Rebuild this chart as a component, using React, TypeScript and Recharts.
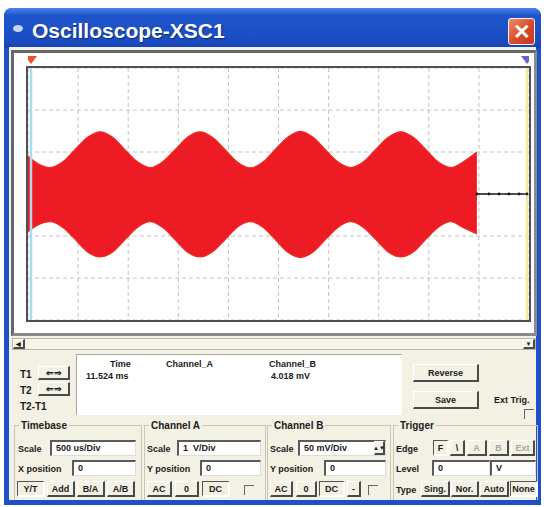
import React from 'react'
import { ComposedChart, Area, Line, XAxis, YAxis, CartesianGrid, ReferenceLine } from 'recharts'

// Channel A: AM signal, envelope (time in ms, volts)
const timeMs = [
  0, 0.1, 0.22, 0.345, 0.47, 0.595, 0.72, 0.845, 0.97, 1.095,
  1.22, 1.345, 1.47, 1.595, 1.72, 1.845, 1.97, 2.095, 2.22, 2.345,
  2.47, 2.595, 2.72, 2.845, 2.97, 3.095, 3.22, 3.345, 3.47, 3.595,
  3.72, 3.845, 3.97, 4.095, 4.22, 4.345, 4.48,
]
const chAUpper = [
  0.9, 0.72, 0.63, 0.76, 1.06, 1.35, 1.48, 1.35, 1.05, 0.76,
  0.63, 0.77, 1.06, 1.36, 1.48, 1.34, 1.05, 0.75, 0.62, 0.76,
  1.07, 1.36, 1.49, 1.35, 1.05, 0.76, 0.63, 0.76, 1.06, 1.35,
  1.48, 1.35, 1.06, 0.76, 0.63, 0.77, 1.0,
]
const chALower = [
  -0.9, -0.74, -0.66, -0.79, -1.08, -1.38, -1.5, -1.38, -1.08, -0.79,
  -0.66, -0.8, -1.09, -1.39, -1.5, -1.37, -1.08, -0.78, -0.66, -0.79,
  -1.09, -1.39, -1.51, -1.38, -1.08, -0.79, -0.66, -0.79, -1.08, -1.38,
  -1.5, -1.38, -1.08, -0.79, -0.66, -0.8, -0.95,
]
// Channel B trace after the signal stops
const chBTime = [4.48, 4.6, 4.7, 4.8, 4.9, 4.98]
const chBVolts = [0, 0, 0, 0, 0, 0]

const xTicks = [0, 0.5, 1, 1.5, 2, 2.5, 3, 3.5, 4, 4.5, 5]
const yTicks = [-3, -2, -1, 0, 1, 2, 3]
const cursorT1 = 0.03
const cursorT2 = 4.98

const data = [
  ...timeMs.map((t, i) => ({ t, env: [chALower[i], chAUpper[i]], trace: t === chBTime[0] ? chBVolts[0] : null })),
  ...chBTime.slice(1).map((t, i) => ({ t, env: null, trace: chBVolts[i + 1] })),
]

const font = '"Liberation Sans", Arial, sans-serif'
const cream = '#f2f1e4'

const Txt = ({ x, y, children, size = 10, color = '#1b1b1b' }: any) => (
  <div style={{ position: 'absolute', left: x, top: y, fontSize: size, fontWeight: 'bold', color, whiteSpace: 'nowrap', lineHeight: '12px' }}>{children}</div>
)

const Btn = ({ x, y, w, h = 16, children, pressed = false, dim = false }: any) => (
  <div style={{
    position: 'absolute', left: x, top: y, width: w, height: h, boxSizing: 'border-box',
    borderTop: `1px solid ${pressed ? '#555' : '#fff'}`, borderLeft: `1px solid ${pressed ? '#555' : '#fff'}`,
    borderRight: `2px solid ${pressed ? '#fff' : '#4a4a4a'}`, borderBottom: `2px solid ${pressed ? '#fff' : '#4a4a4a'}`,
    background: cream, fontSize: 9, fontWeight: 'bold', color: dim ? '#a8a8a0' : '#1b1b1b',
    display: 'flex', alignItems: 'center', justifyContent: 'center', whiteSpace: 'nowrap',
  }}>{children}</div>
)

const Field = ({ x, y, w, h = 16, children }: any) => (
  <div style={{
    position: 'absolute', left: x, top: y, width: w, height: h, boxSizing: 'border-box',
    borderTop: '2px solid #5a5a5a', borderLeft: '2px solid #5a5a5a', borderRight: '1px solid #ddd', borderBottom: '1px solid #ddd',
    background: '#fff', fontSize: 9, fontWeight: 'bold', color: '#1b1b1b', paddingLeft: 4, lineHeight: '13px', whiteSpace: 'pre',
  }}>{children}</div>
)

const Group = ({ x, w, label }: any) => (
  <>
    <div style={{ position: 'absolute', left: x, top: 425, width: w, height: 75, boxSizing: 'border-box', border: '1px solid #c9c7b4', borderBottom: 'none' }} />
    <div style={{ position: 'absolute', left: x + 5, top: 420, padding: '0 2px', background: cream, fontSize: 10, fontWeight: 'bold', color: '#1b1b1b', lineHeight: '12px' }}>{label}</div>
  </>
)

const Radio = ({ x, y }: any) => (
  <div style={{ position: 'absolute', left: x, top: y, width: 9, height: 9, borderTop: '1px solid #666', borderLeft: '1px solid #666' }} />
)

const Triangle = ({ viewBox, color }: any) => {
  const cx = viewBox.x
  const top = viewBox.y - 12
  return <path d={`M${cx - 6},${top} L${cx + 6},${top} L${cx},${top + 8} Z`} fill={color} />
}

export default function App() {
  return (
    <div style={{ position: 'absolute', left: 0, top: 0, width: 544, height: 507, background: '#fff', fontFamily: font, overflow: 'hidden' }}>
      {/* window */}
      <div style={{ position: 'absolute', left: 4, top: 8, width: 537, height: 497, background: '#1d4fc6', borderRadius: '8px 8px 0 0' }} />
      <div style={{ position: 'absolute', left: 4, top: 8, width: 537, height: 40, borderRadius: '8px 8px 0 0', background: 'linear-gradient(#4a82ea, #1f55cc 18%, #1b4ec4 75%, #1744b4)' }} />
      <div style={{ position: 'absolute', left: 13, top: 25, width: 10, height: 7, borderRadius: '50%', background: '#c9d4ee' }} />
      <div style={{ position: 'absolute', left: 32, top: 17, fontSize: 21, fontWeight: 'bold', color: '#fff', lineHeight: '28px', textShadow: '1px 1px 1px #0a2a80' }}>Oscilloscope-XSC1</div>
      <div style={{
        position: 'absolute', left: 508, top: 18, width: 27, height: 27, boxSizing: 'border-box', border: '1px solid #f4f4f4', borderRadius: 3,
        background: 'linear-gradient(135deg, #f0906a, #d8482a 55%, #c23a1c)', color: '#fff', fontSize: 21, fontWeight: 'bold',
        display: 'flex', alignItems: 'center', justifyContent: 'center',
      }}>✕</div>

      {/* client area */}
      <div style={{ position: 'absolute', left: 9, top: 47, width: 527, height: 453, background: cream }} />

      {/* screen */}
      <div style={{ position: 'absolute', left: 11, top: 50, width: 526, height: 286, boxSizing: 'border-box', border: '3px solid #676767', borderRightColor: '#8a8a8a', borderBottomColor: '#8a8a8a', background: '#fff' }} />
      <div style={{ position: 'absolute', left: 28, top: 53 }}>
        <ComposedChart width={501} height={267} data={data} margin={{ top: 15, right: 0, bottom: 0, left: 0 }}>
          <XAxis type="number" dataKey="t" domain={[0, 5]} ticks={xTicks} hide />
          <YAxis type="number" domain={[-3, 3]} ticks={yTicks} hide />
          <CartesianGrid stroke="#c2c2c2" strokeDasharray="4 3" />
          <Area type="monotone" dataKey="env" stroke="#ef2a22" strokeWidth={1.2} fill="#ed1c24" fillOpacity={1} isAnimationActive={false} />
          <Line type="linear" dataKey="trace" stroke="#1a1a1a" strokeWidth={1.5} dot={{ r: 1.4, fill: '#1a1a1a', strokeWidth: 0 }} isAnimationActive={false} />
          <ReferenceLine x={cursorT1} stroke="#a9dbee" strokeWidth={2.5} label={(p: any) => <Triangle {...p} color="#e8552a" />} />
          <ReferenceLine x={cursorT2} stroke="#f1ed9c" strokeWidth={2.5} label={(p: any) => <Triangle {...p} color="#6a62c8" />} />
        </ComposedChart>
      </div>
      <div style={{ position: 'absolute', left: 26, top: 66, width: 505, height: 256, boxSizing: 'border-box', border: '2px solid #505050' }} />

      {/* scrollbar */}
      <div style={{ position: 'absolute', left: 12, top: 338, width: 524, height: 12, boxSizing: 'border-box', border: '1px solid #b8b6a4', background: '#f6f5ea' }} />
      <Btn x={13} y={339} w={12} h={10}><span style={{ fontSize: 6 }}>◀</span></Btn>
      <Btn x={523} y={339} w={12} h={10}><span style={{ fontSize: 6 }}>▼</span></Btn>

      {/* cursor readout */}
      <Txt x={20} y={369}>T1</Txt>
      <Btn x={38} y={366} w={32} h={14}><span style={{ fontSize: 9 }}>⇐⇒</span></Btn>
      <Txt x={20} y={385}>T2</Txt>
      <Btn x={38} y={382} w={32} h={14}><span style={{ fontSize: 9 }}>⇐⇒</span></Btn>
      <Txt x={20} y={401}>T2-T1</Txt>
      <div style={{ position: 'absolute', left: 76, top: 354, width: 326, height: 61, boxSizing: 'border-box', borderTop: '1px solid #a8a8a0', borderLeft: '1px solid #a8a8a0', background: '#fff' }} />
      <Txt x={110} y={358} size={9}>Time</Txt>
      <Txt x={166} y={358} size={9}>Channel_A</Txt>
      <Txt x={269} y={358} size={9}>Channel_B</Txt>
      <Txt x={86} y={370} size={9}>11.524 ms</Txt>
      <Txt x={271} y={370} size={9}>4.018 mV</Txt>

      <Btn x={413} y={364} w={66} h={18}>Reverse</Btn>
      <Btn x={413} y={391} w={66} h={18}>Save</Btn>
      <Txt x={494} y={394} size={9}>Ext Trig.</Txt>
      <Radio x={524} y={409} />

      {/* Timebase */}
      <Group x={14} w={128} label="Timebase" />
      <Txt x={18} y={443} size={9}>Scale</Txt>
      <Field x={50} y={440} w={86}>500 us/Div</Field>
      <Txt x={18} y={463} size={9}>X position</Txt>
      <Field x={72} y={460} w={64}>0</Field>
      <Btn x={17} y={481} w={28} pressed>Y/T</Btn>
      <Btn x={47} y={481} w={28}>Add</Btn>
      <Btn x={77} y={481} w={28}>B/A</Btn>
      <Btn x={107} y={481} w={28}>A/B</Btn>

      {/* Channel A */}
      <Group x={144} w={122} label="Channel A" />
      <Txt x={147} y={443} size={9}>Scale</Txt>
      <Field x={177} y={440} w={84}>{'1  V/Div'}</Field>
      <Txt x={147} y={463} size={9}>Y position</Txt>
      <Field x={200} y={460} w={61}>0</Field>
      <Btn x={147} y={481} w={25}>AC</Btn>
      <Btn x={175} y={481} w={24}>0</Btn>
      <Btn x={202} y={481} w={28} pressed>DC</Btn>
      <Radio x={244} y={485} />

      {/* Channel B */}
      <Group x={267} w={124} label="Channel B" />
      <Txt x={270} y={443} size={9}>Scale</Txt>
      <Field x={298} y={440} w={88}>50 mV/Div</Field>
      <Btn x={374} y={441} w={11} h={14}><span style={{ fontSize: 6 }}>▲▼</span></Btn>
      <Txt x={270} y={463} size={9}>Y position</Txt>
      <Field x={324} y={460} w={62}>0</Field>
      <Btn x={270} y={481} w={23}>AC</Btn>
      <Btn x={296} y={481} w={21}>0</Btn>
      <Btn x={319} y={481} w={26} pressed>DC</Btn>
      <Btn x={347} y={481} w={14}>-</Btn>
      <Radio x={368} y={485} />

      {/* Trigger */}
      <Group x={393} w={145} label="Trigger" />
      <Txt x={396} y={443} size={9}>Edge</Txt>
      <Btn x={433} y={440} w={16} pressed>F</Btn>
      <Btn x={450} y={440} w={15}>\</Btn>
      <Btn x={467} y={440} w={20} dim>A</Btn>
      <Btn x={489} y={440} w={20} dim>B</Btn>
      <Btn x={511} y={440} w={24} dim>Ext</Btn>
      <Txt x={396} y={463} size={9}>Level</Txt>
      <Field x={432} y={460} w={58}>0</Field>
      <Field x={490} y={460} w={46}>V</Field>
      <Txt x={396} y={484} size={9}>Type</Txt>
      <Btn x={421} y={481} w={29}>Sing.</Btn>
      <Btn x={451} y={481} w={28}>Nor.</Btn>
      <Btn x={480} y={481} w={29}>Auto</Btn>
      <Btn x={510} y={481} w={28} pressed>None</Btn>
    </div>
  )
}
